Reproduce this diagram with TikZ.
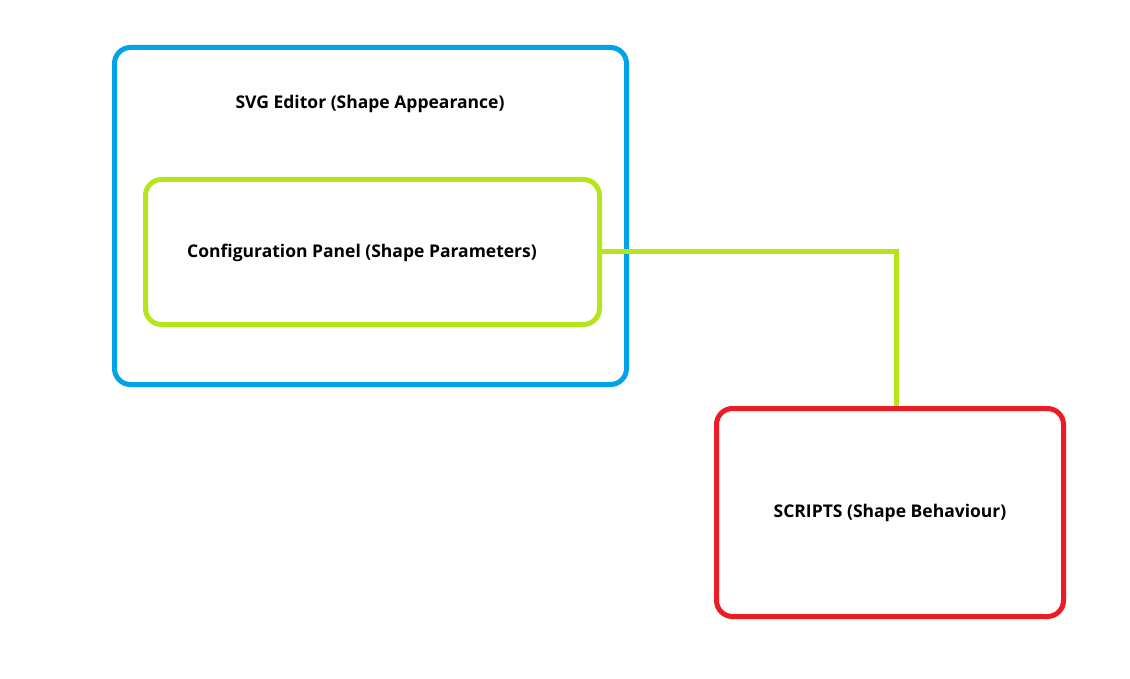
\documentclass[tikz,border=0pt]{standalone}
\usepackage{fontspec}
\setmainfont{Open Sans}
\usetikzlibrary{positioning}

\definecolor{editorblue}{HTML}{00A2E8}
\definecolor{panelgreen}{HTML}{B5E61D}
\definecolor{scriptred}{HTML}{ED1C24}

\tikzset{
  label font/.style = {font=\bfseries\fontsize{17.5}{21}\selectfont},
  box/.style = {draw, line width=5pt, rounded corners=16pt, label font},
  link/.style = {draw=panelgreen, line width=5pt}
}

\begin{document}
\begin{tikzpicture}[x=1pt, y=-1pt]
\useasboundingbox (0,0) rectangle (1130,679);
\node [box, draw=editorblue, minimum width=512pt, minimum height=337pt] (editor) at (370.5,216) {};
\node [label font] (editortitle) at (370,104) {SVG Editor (Shape Appearance)};
\node [box, draw=panelgreen, minimum width=454pt, minimum height=145pt] (panel) at (372.5,252) {};
\node [label font] (paneltitle) at (362,253) {Configuration Panel (Shape Parameters)};
\node [box, draw=scriptred, minimum width=347pt, minimum height=208pt] (scripts) at (890,512.5) {SCRIPTS (Shape Behaviour)};
\coordinate (scriptstop) at ([xshift=6pt]scripts.north);
\draw [link] (panel.east) -| (scriptstop);
\end{tikzpicture}
\end{document}
